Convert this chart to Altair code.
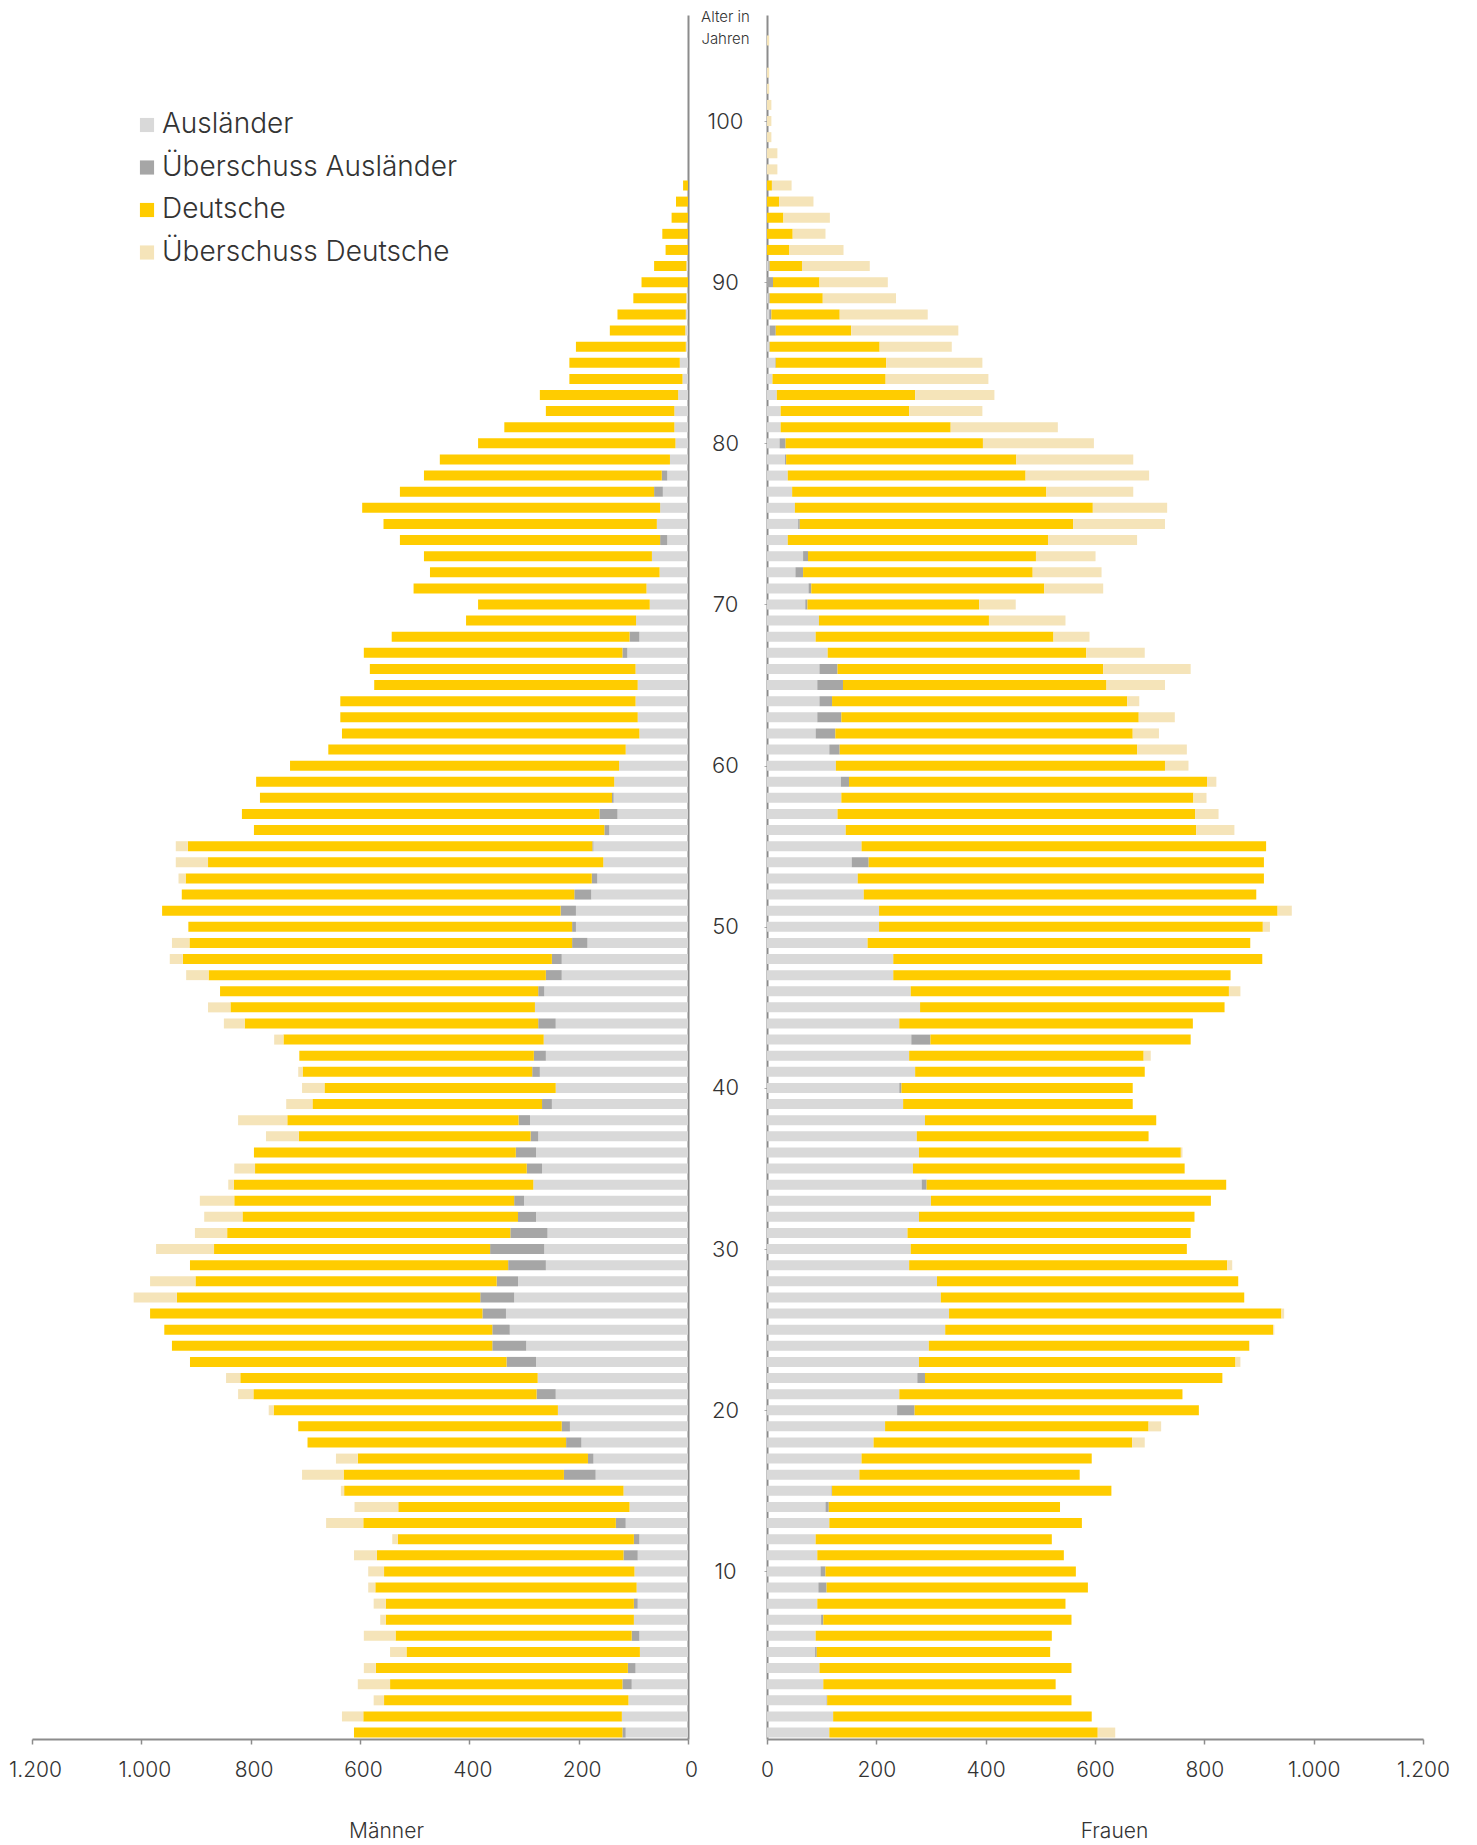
import altair as alt
import pandas as pd

# Altersjahre
alter = list(range(0, 106))

# Männer: Ausländer und insgesamt (Ausländer + Deutsche)
m_auslaender = [120, 121, 109, 120, 110, 88, 103, 99, 99, 94,
                98, 118, 99, 132, 107, 118, 227, 183, 223, 231,
                238, 277, 275, 332, 358, 358, 376, 380, 350, 329,
                362, 325, 311, 318, 283, 295, 315, 288, 310, 267,
                242, 285, 282, 264, 274, 280, 274, 260, 249, 212,
                212, 233, 208, 176, 155, 175, 153, 162, 139, 135,
                126, 114, 89, 92, 96, 92, 96, 120, 107, 95,
                70, 76, 52, 66, 51, 57, 51, 62, 48, 33,
                23, 25, 25, 18, 10, 15, 4, 5, 4, 3,
                0, 3, 0, 0, 0, 0, 0, 0, 0, 0,
                0, 0, 0, 0, 0, 0]
m_insgesamt = [611, 633, 575, 604, 593, 545, 593, 563, 575, 585,
               585, 611, 541, 662, 610, 635, 706, 644, 696, 713,
               767, 823, 845, 911, 944, 958, 984, 1014, 984, 911,
               973, 902, 885, 893, 841, 830, 794, 772, 823, 735,
               706, 713, 711, 757, 849, 878, 856, 918, 948, 944,
               914, 962, 926, 932, 937, 937, 794, 816, 783, 790,
               728, 658, 633, 636, 636, 574, 582, 593, 542, 406,
               384, 502, 472, 483, 527, 557, 596, 527, 483, 454,
               384, 336, 260, 271, 217, 217, 205, 143, 129, 100,
               85, 62, 41, 47, 30, 22, 9, 0, 0, 0,
               0, 0, 0, 0, 0, 0]

# Frauen: Ausländerinnen und insgesamt
w_auslaender = [114, 121, 110, 103, 96, 91, 89, 103, 92, 109,
                107, 92, 89, 114, 113, 119, 169, 173, 195, 216,
                270, 242, 289, 278, 296, 326, 333, 318, 311, 260,
                263, 257, 278, 300, 292, 267, 278, 274, 289, 249,
                246, 271, 260, 299, 242, 280, 263, 231, 231, 184,
                205, 205, 177, 166, 186, 173, 144, 129, 136, 150,
                126, 133, 125, 136, 119, 139, 129, 111, 89, 95,
                74, 81, 66, 75, 38, 60, 51, 46, 38, 35,
                34, 25, 25, 18, 10, 16, 5, 16, 8, 5,
                11, 5, 0, 0, 0, 0, 0, 0, 0, 0,
                0, 0, 0, 0, 0, 0]
w_insgesamt = [637, 594, 557, 528, 557, 518, 521, 557, 546, 587,
               565, 543, 521, 576, 536, 630, 572, 594, 691, 721,
               790, 760, 833, 866, 883, 928, 946, 873, 862, 851,
               768, 775, 782, 812, 840, 764, 760, 698, 712, 669,
               669, 691, 702, 775, 779, 837, 866, 848, 906, 884,
               920, 960, 895, 909, 909, 913, 855, 826, 804, 822,
               771, 768, 717, 746, 681, 728, 775, 691, 590, 546,
               455, 615, 612, 601, 677, 728, 732, 670, 699, 670,
               598, 532, 394, 416, 405, 394, 338, 350, 294, 236,
               221, 188, 140, 107, 115, 85, 45, 19, 19, 8,
               8, 8, 4, 4, 0, 4]

kategorien = ["Ausländer", "Überschuss Ausländer", "Deutsche", "Überschuss Deutsche"]
farben = ["#d9d9d9", "#a6a6a6", "#ffcc00", "#f5e4b9"]
x_ticks = [0, 200, 400, 600, 800, 1000, 1200]
alter_ticks = [10, 20, 30, 40, 50, 60, 70, 80, 90, 100]

rows = []
for i, a in enumerate(alter):
    fm, ff = m_auslaender[i], w_auslaender[i]
    gm, gf = m_insgesamt[i] - fm, w_insgesamt[i] - ff
    for seite, fa, fo, ga, go in (("Männer", fm, ff, gm, gf), ("Frauen", ff, fm, gf, gm)):
        g = min(fa, fo)
        d = min(ga, go)
        segs = [("Ausländer", 0, g), ("Überschuss Ausländer", g, fa),
                ("Deutsche", fa, fa + d), ("Überschuss Deutsche", fa + d, fa + ga)]
        for k, x0, x1 in segs:
            if x1 > x0:
                rows.append({"alter": a, "seite": seite, "kategorie": k, "x0": x0, "x1": x1})
df = pd.DataFrame(rows)

FONT = "Inter"
TXT = "#333333"
AX = "#8c8c8c"
W, H = 656, 1724

y_scale = alt.Scale(domain=[-0.4, 106.58], nice=False, zero=False, padding=0)
color = alt.Color(
    "kategorie:N",
    scale=alt.Scale(domain=kategorien, range=farben),
    legend=alt.Legend(
        title=None, orient="none", legendX=101, legendY=96,
        symbolType="square", symbolSize=200, symbolStrokeWidth=0,
        labelFont=FONT, labelFontSize=28, labelFontWeight=300, labelColor=TXT,
        labelLimit=0, rowPadding=14.5, labelOffset=1,
    ),
)

def x_axis(title, tx, loff):
    return alt.Axis(
        values=x_ticks, title=title, grid=False, labelFlush=False, labelOffset=loff,
        labelExpr="replace(datum.label, ',', '.')",
        labelFont=FONT, labelFontSize=21, labelFontWeight=300, labelColor=TXT,
        labelPadding=15, tickSize=5, tickColor=AX, tickWidth=1.5,
        domainColor=AX, domainWidth=2,
        titleFont=FONT, titleFontSize=21, titleFontWeight=300, titleColor=TXT,
        titleX=tx, titleY=92, titleAlign="center", titleBaseline="middle",
    )

left = alt.Chart(df).transform_filter("datum.seite == 'Männer'").mark_bar(
    orient="horizontal", size=10
).encode(
    x=alt.X("x0:Q", scale=alt.Scale(domain=[0, 1200], reverse=True, nice=False, padding=0),
            axis=x_axis("Männer", 354, 3)),
    x2="x1:Q",
    y=alt.Y("alter:Q", scale=y_scale,
            axis=alt.Axis(orient="right", labels=False, ticks=False, title=None, grid=False,
                          domainColor=AX, domainWidth=2)),
    color=color,
).properties(width=W, height=H)

right = alt.Chart(df).transform_filter("datum.seite == 'Frauen'").mark_bar(
    orient="horizontal", size=10
).encode(
    x=alt.X("x0:Q", scale=alt.Scale(domain=[0, 1200], nice=False, padding=0),
            axis=x_axis("Frauen", 347, 0)),
    x2="x1:Q",
    y=alt.Y("alter:Q", scale=y_scale,
            axis=alt.Axis(orient="left", values=alter_ticks, grid=False,
                          domainColor=AX, domainWidth=2,
                          tickSize=3, tickColor="#b0b0b0", tickWidth=1,
                          labelFont=FONT, labelFontSize=22, labelFontWeight=300, labelColor=TXT,
                          labelAlign="center", labelPadding=39,
                          title=["Alter in", "Jahren"], titleAngle=0, titleX=-42, titleY=-6,
                          titleAlign="center", titleBaseline="top",
                          titleFont=FONT, titleFontSize=15, titleFontWeight=300,
                          titleColor=TXT, titleLineHeight=22)),
    color=color,
).properties(width=W, height=H)

chart = alt.hconcat(left, right, spacing=79, bounds="flush").properties(
    padding={"left": 0, "top": 1, "right": 5, "bottom": 5},
    background="white",
).configure_view(stroke=None)

chart.save("out.html", embed_options={"renderer": "svg", "actions": False})
